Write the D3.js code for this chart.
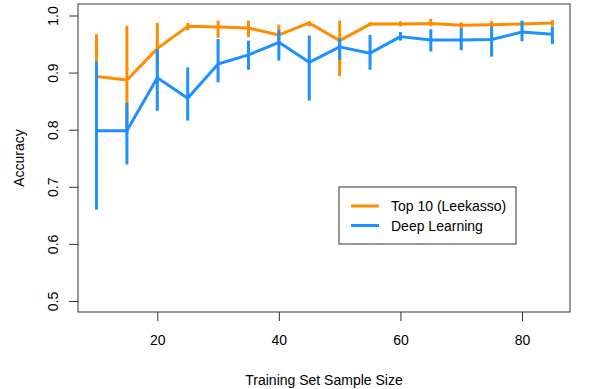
<!DOCTYPE html>
<html>
<head>
<meta charset="utf-8">
<script src="https://cdn.jsdelivr.net/npm/d3@7"></script>
<style>
  body { margin: 0; background: #fff; }
  svg text { font-family: "Liberation Sans", Arial, sans-serif; fill: #000; }
</style>
</head>
<body>
<div id="chart"></div>
<script>
// sample sizes
var sizes = [10, 15, 20, 25, 30, 35, 40, 45, 50, 55, 60, 65, 70, 75, 80, 85];

// Top 10 (Leekasso)
var leekMean = [0.893, 0.887, 0.942, 0.981, 0.980, 0.978, 0.966, 0.987, 0.956, 0.985, 0.985, 0.986, 0.983, 0.984, 0.985, 0.987];
var leekLow  = [0.819, 0.793, 0.899, 0.974, 0.961, 0.962, 0.948, 0.981, 0.894, 0.981, 0.981, 0.981, 0.977, 0.979, 0.980, 0.982];
var leekHigh = [0.967, 0.982, 0.987, 0.987, 0.991, 0.991, 0.984, 0.990, 0.991, 0.988, 0.990, 0.994, 0.988, 0.990, 0.990, 0.992];

// Deep Learning
var deepMean = [0.798, 0.798, 0.891, 0.855, 0.915, 0.931, 0.953, 0.918, 0.945, 0.934, 0.963, 0.957, 0.957, 0.958, 0.971, 0.967];
var deepLow  = [0.660, 0.739, 0.833, 0.816, 0.883, 0.905, 0.921, 0.851, 0.922, 0.905, 0.956, 0.937, 0.939, 0.928, 0.955, 0.950];
var deepHigh = [0.919, 0.847, 0.941, 0.909, 0.959, 0.956, 0.975, 0.965, 0.960, 0.966, 0.971, 0.976, 0.978, 0.981, 0.991, 0.981];

var xTicks = [20, 40, 60, 80];
var yTicks = [0.5, 0.6, 0.7, 0.8, 0.9, 1.0];
var seriesNames = ["Top 10 (Leekasso)", "Deep Learning"];
var seriesColors = ["#FF8C00", "#1E90FF"];

var width = 600, height = 389;
var box = { left: 78, top: 4, right: 570, bottom: 312 };

var svg = d3.select("#chart").append("svg")
  .attr("width", width)
  .attr("height", height);

var x = d3.scaleLinear().domain([20, 80]).range([157.3, 522]);
var y = d3.scaleLinear().domain([0.5, 1.0]).range([301, 15.5]);

// plot frame
svg.append("rect")
  .attr("x", box.left).attr("y", box.top)
  .attr("width", box.right - box.left).attr("height", box.bottom - box.top)
  .attr("fill", "none").attr("stroke", "#333").attr("stroke-width", 1);

// axes
var xAxis = svg.append("g")
  .attr("transform", "translate(0," + box.bottom + ")")
  .call(d3.axisBottom(x).tickValues(xTicks).tickSize(9).tickPadding(14).tickFormat(d3.format("d")));
xAxis.select(".domain").remove();
xAxis.selectAll("line").attr("stroke", "#333");
xAxis.selectAll("text").attr("font-size", 14);

var yAxis = svg.append("g")
  .attr("transform", "translate(" + box.left + ",0)")
  .call(d3.axisLeft(y).tickValues(yTicks).tickSize(9).tickFormat(d3.format(".1f")));
yAxis.select(".domain").remove();
yAxis.selectAll("line").attr("stroke", "#333");
yAxis.selectAll("text")
  .attr("font-size", 14)
  .attr("x", 0).attr("dy", null)
  .attr("text-anchor", "middle")
  .attr("dominant-baseline", "central")
  .attr("transform", "translate(-25,0) rotate(-90)");

// axis titles
svg.append("text")
  .attr("x", (box.left + box.right) / 2).attr("y", 380)
  .attr("text-anchor", "middle").attr("dominant-baseline", "central")
  .attr("font-size", 14)
  .text("Training Set Sample Size");

svg.append("text")
  .attr("transform", "translate(19," + (box.top + box.bottom) / 2 + ") rotate(-90)")
  .attr("text-anchor", "middle").attr("dominant-baseline", "central")
  .attr("font-size", 14)
  .text("Accuracy");

// series: orange first, blue on top
var series = [
  { mean: leekMean, low: leekLow, high: leekHigh, color: seriesColors[0] },
  { mean: deepMean, low: deepLow, high: deepHigh, color: seriesColors[1] }
];

var line = d3.line()
  .x(function(d) { return x(d.size); })
  .y(function(d) { return y(d.mean); });

series.forEach(function(s) {
  var pts = sizes.map(function(sz, i) {
    return { size: sz, mean: s.mean[i], low: s.low[i], high: s.high[i] };
  });
  var g = svg.append("g");
  g.selectAll("line")
    .data(pts)
    .enter()
    .append("line")
    .attr("x1", function(d) { return x(d.size); })
    .attr("x2", function(d) { return x(d.size); })
    .attr("y1", function(d) { return y(d.low); })
    .attr("y2", function(d) { return y(d.high); })
    .attr("stroke", s.color)
    .attr("stroke-width", 3);
  g.append("path")
    .datum(pts)
    .attr("d", line)
    .attr("fill", "none")
    .attr("stroke", s.color)
    .attr("stroke-width", 3)
    .attr("stroke-linejoin", "round");
});

// legend
var legend = svg.append("g");
legend.append("rect")
  .attr("x", 339).attr("y", 187)
  .attr("width", 177).attr("height", 57)
  .attr("fill", "#fff").attr("stroke", "#333").attr("stroke-width", 1);

seriesNames.forEach(function(name, i) {
  var ly = 206 + i * 19.5;
  legend.append("line")
    .attr("x1", 351).attr("x2", 379)
    .attr("y1", ly).attr("y2", ly)
    .attr("stroke", seriesColors[i]).attr("stroke-width", 3);
  legend.append("text")
    .attr("x", 391).attr("y", ly)
    .attr("dominant-baseline", "central")
    .attr("font-size", 14)
    .text(name);
});
</script>
</body>
</html>
